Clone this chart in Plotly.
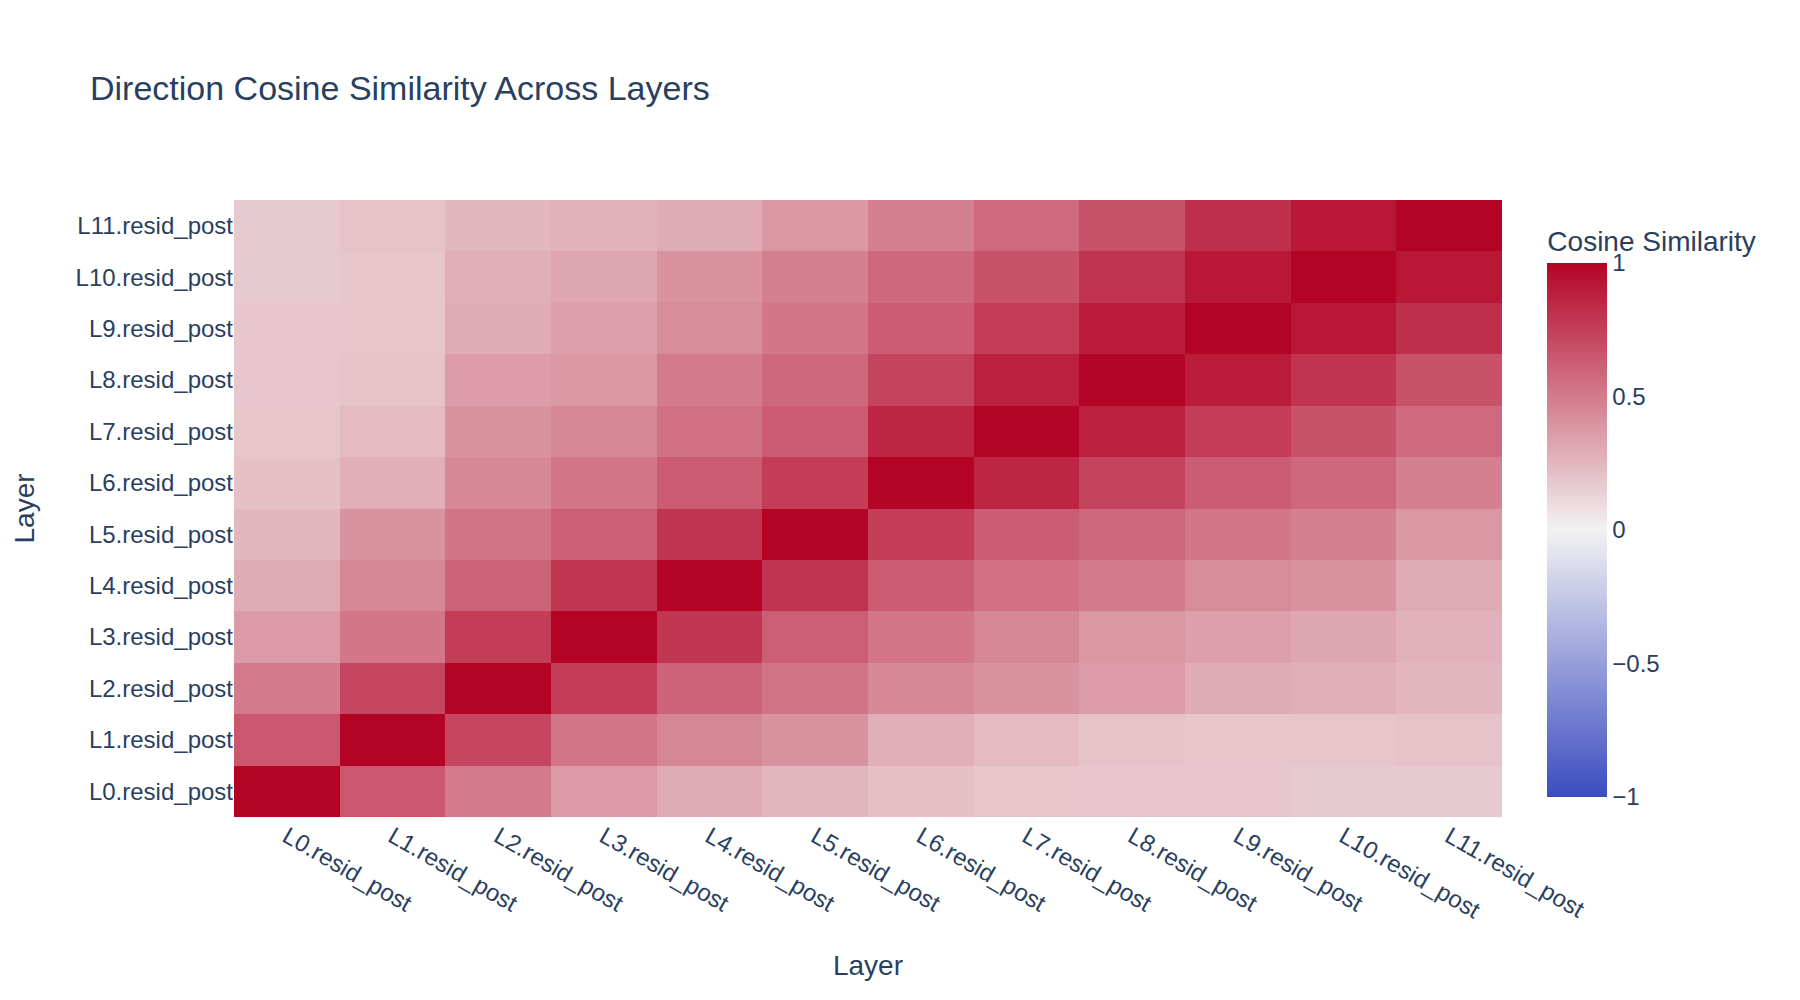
import plotly.graph_objects as go

layers = [f"L{i}.resid_post" for i in range(12)]

row_L0 = [1.00, 0.65, 0.50, 0.37, 0.30, 0.25, 0.21, 0.19, 0.18, 0.18, 0.17, 0.17]
row_L1 = [0.65, 1.00, 0.72, 0.52, 0.45, 0.40, 0.28, 0.23, 0.20, 0.19, 0.19, 0.20]
row_L2 = [0.50, 0.72, 1.00, 0.76, 0.60, 0.53, 0.44, 0.40, 0.36, 0.30, 0.28, 0.25]
row_L3 = [0.37, 0.52, 0.76, 1.00, 0.79, 0.62, 0.52, 0.45, 0.38, 0.35, 0.32, 0.27]
row_L4 = [0.30, 0.45, 0.60, 0.79, 1.00, 0.80, 0.63, 0.54, 0.50, 0.43, 0.40, 0.30]
row_L5 = [0.25, 0.40, 0.53, 0.62, 0.80, 1.00, 0.76, 0.63, 0.58, 0.52, 0.48, 0.38]
row_L6 = [0.21, 0.28, 0.44, 0.52, 0.63, 0.76, 1.00, 0.86, 0.73, 0.63, 0.58, 0.48]
row_L7 = [0.19, 0.23, 0.40, 0.45, 0.54, 0.63, 0.86, 1.00, 0.88, 0.76, 0.67, 0.57]
row_L8 = [0.18, 0.20, 0.36, 0.38, 0.50, 0.58, 0.73, 0.88, 1.00, 0.90, 0.80, 0.67]
row_L9 = [0.18, 0.19, 0.30, 0.35, 0.43, 0.52, 0.63, 0.76, 0.90, 1.00, 0.92, 0.82]
row_L10 = [0.17, 0.19, 0.28, 0.32, 0.40, 0.48, 0.58, 0.67, 0.80, 0.92, 1.00, 0.92]
row_L11 = [0.17, 0.20, 0.25, 0.27, 0.30, 0.38, 0.48, 0.57, 0.67, 0.82, 0.92, 1.00]

z = [row_L0, row_L1, row_L2, row_L3, row_L4, row_L5,
     row_L6, row_L7, row_L8, row_L9, row_L10, row_L11]

colorscale = [[0.0, "#3b4cc0"], [0.5, "#f2f2f2"], [1.0, "#b40426"]]
FONT = "Liberation Sans, Arial, sans-serif"
TXT = "#2a3f5f"

fig = go.Figure(
    go.Heatmap(
        z=z, x=layers, y=layers,
        zmin=-1, zmax=1,
        colorscale=colorscale,
        colorbar=dict(
            title=dict(text="Cosine Similarity", font=dict(size=28, family=FONT, color=TXT)),
            thickness=60, xpad=20, ypad=20,
            len=0.988, y=0, yanchor="bottom",
            tickfont=dict(size=24, family=FONT, color=TXT),
            outlinewidth=0,
        ),
    )
)

fig.update_layout(
    width=1800, height=1000,
    template="plotly",
    font=dict(family=FONT, size=24, color=TXT),
    title=dict(text="Direction Cosine Similarity Across Layers",
               font=dict(size=34, family=FONT, color=TXT), x=0.05),
    margin=dict(l=234, r=298, t=200, b=183),
    xaxis=dict(title=dict(text="Layer", font=dict(size=28), standoff=32),
               tickangle=30, automargin=False),
    yaxis=dict(title=dict(text="Layer", font=dict(size=28), standoff=32),
               automargin=False),
)

fig.write_html("out.html")
